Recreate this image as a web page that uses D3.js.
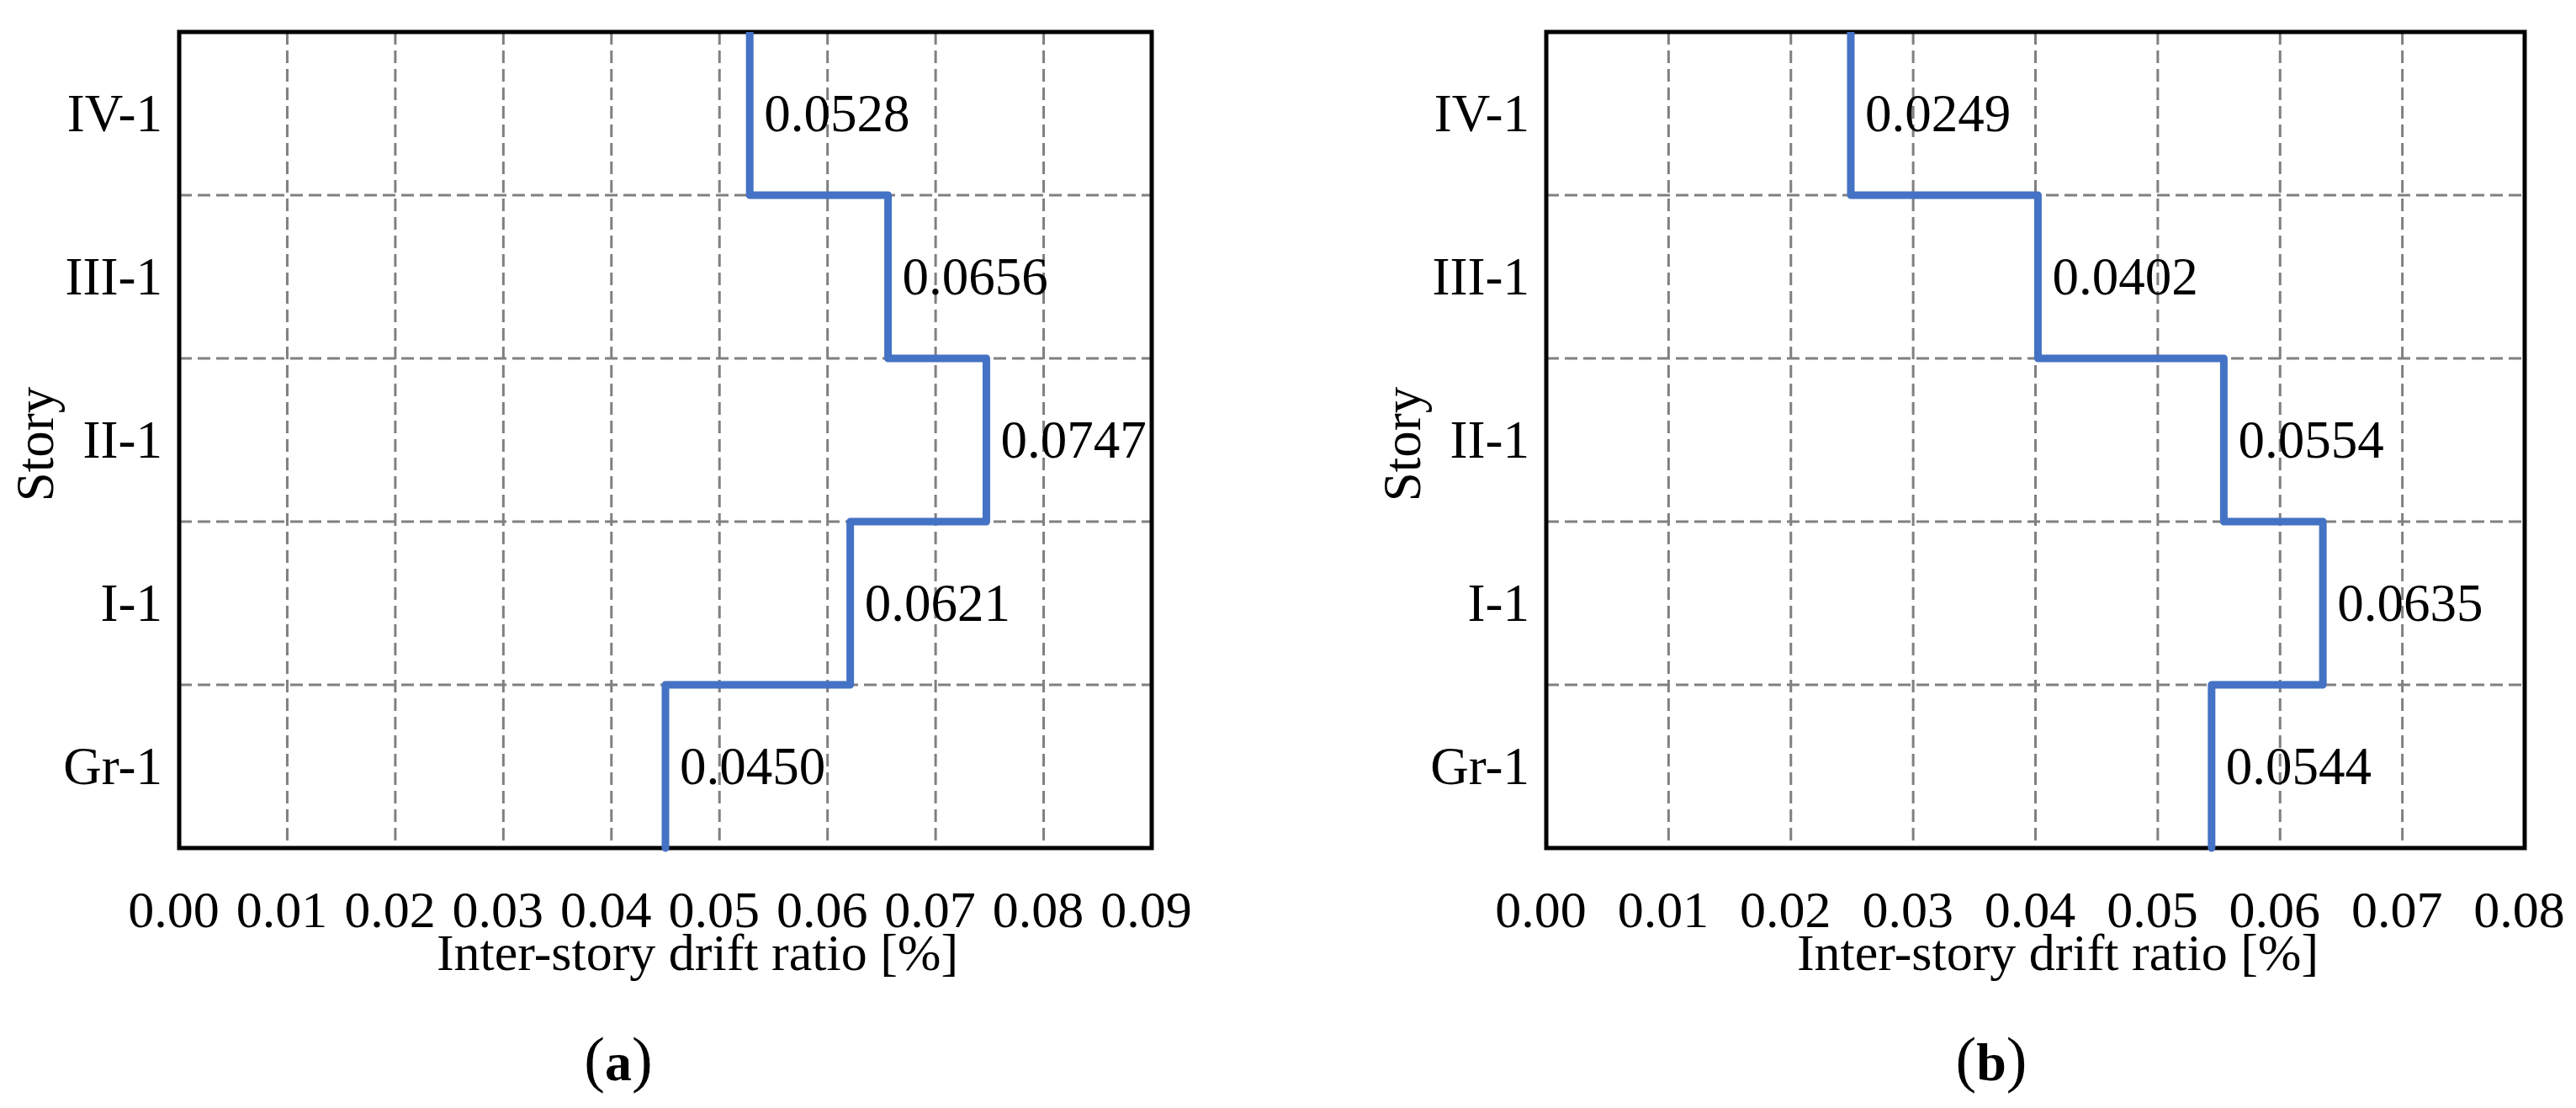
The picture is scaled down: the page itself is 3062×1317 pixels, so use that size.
<!DOCTYPE html>
<html>
<head>
<meta charset="utf-8">
<script src="https://cdn.jsdelivr.net/npm/d3@7"></script>
<style>
  html, body { margin: 0; padding: 0; background: #ffffff; }
  svg { display: block; }
  text { font-family: "Liberation Serif", "Times New Roman", serif; fill: #000; }
</style>
</head>
<body>
<script>
// ---------- data ----------
const stories = ["IV-1", "III-1", "II-1", "I-1", "Gr-1"];          // top -> bottom
const driftA  = [0.0528, 0.0656, 0.0747, 0.0621, 0.0450];          // panel (a)
const driftB  = [0.0249, 0.0402, 0.0554, 0.0635, 0.0544];          // panel (b)
const ticksA  = [0.00, 0.01, 0.02, 0.03, 0.04, 0.05, 0.06, 0.07, 0.08, 0.09];
const ticksB  = [0.00, 0.01, 0.02, 0.03, 0.04, 0.05, 0.06, 0.07, 0.08];
const xTitle  = "Inter-story drift ratio [%]";
const yTitle  = "Story";
const panelLetters = ["a", "b"];

// ---------- layout ----------
const W = 3062, H = 1317;
const plotTop = 38, plotBottom = 1008;
const panels = [
  { x0: 213,  x1: 1369, ticks: ticksA, values: driftA, letter: panelLetters[0], letterX: 735,  titleX: 829 },
  { x0: 1838, x1: 3001, ticks: ticksB, values: driftB, letter: panelLetters[1], letterX: 2367, titleX: 2446 }
];
const blue = "#4472C4";
const gridColor = "#808080";
const fs = 62;

const svg = d3.select("body").append("svg")
  .attr("width", W).attr("height", H)
  .attr("viewBox", `0 0 ${W} ${H}`);

const fmtTick = d3.format(".2f");
const fmtVal = d3.format(".4f");

panels.forEach((p, pi) => {
  const x = d3.scaleLinear()
    .domain([p.ticks[0], p.ticks[p.ticks.length - 1]])
    .range([p.x0, p.x1]);
  const y = d3.scaleBand().domain(stories).range([plotTop, plotBottom]).paddingInner(0).paddingOuter(0);

  const g = svg.append("g");

  // clip
  const clipId = "clip" + pi;
  svg.append("clipPath").attr("id", clipId)
    .append("rect").attr("x", p.x0 - 20).attr("y", plotTop)
    .attr("width", p.x1 - p.x0 + 40).attr("height", plotBottom - plotTop + 6);

  // vertical grid lines (inner ticks)
  g.append("g").selectAll("line")
    .data(p.ticks.slice(1, -1))
    .join("line")
    .attr("x1", d => x(d)).attr("x2", d => x(d))
    .attr("y1", plotTop).attr("y2", plotBottom)
    .attr("stroke", gridColor).attr("stroke-width", 3)
    .attr("stroke-dasharray", "15,7");

  // horizontal grid lines (story boundaries)
  g.append("g").selectAll("line")
    .data(stories.slice(1))
    .join("line")
    .attr("x1", p.x0).attr("x2", p.x1)
    .attr("y1", d => y(d)).attr("y2", d => y(d))
    .attr("stroke", gridColor).attr("stroke-width", 3)
    .attr("stroke-dasharray", "15,7");

  // frame
  g.append("rect")
    .attr("x", p.x0).attr("y", plotTop)
    .attr("width", p.x1 - p.x0).attr("height", plotBottom - plotTop)
    .attr("fill", "none").attr("stroke", "#000").attr("stroke-width", 5);

  // step line
  const pts = [];
  stories.forEach((s, i) => {
    pts.push([x(p.values[i]), y(s)]);
    pts.push([x(p.values[i]), y(s) + y.bandwidth()]);
  });
  g.append("path")
    .attr("d", d3.line()(pts))
    .attr("fill", "none")
    .attr("stroke", blue).attr("stroke-width", 9)
    .attr("stroke-linejoin", "round").attr("stroke-linecap", "round")
    .attr("clip-path", `url(#${clipId})`);

  // value labels
  g.append("g").selectAll("text")
    .data(stories)
    .join("text")
    .attr("x", (s, i) => x(p.values[i]) + 17)
    .attr("y", s => y(s) + y.bandwidth() / 2)
    .attr("dy", "0.33em")
    .attr("font-size", 63)
    .text((s, i) => fmtVal(p.values[i]));

  // x axis
  const xAxis = d3.axisBottom(x).tickValues(p.ticks).tickFormat(fmtTick).tickSize(0).tickPadding(50);
  const gx = svg.append("g").attr("transform", `translate(0,${plotBottom})`).call(xAxis);
  gx.select(".domain").remove();
  gx.selectAll("text").attr("font-size", fs).attr("font-family", "Liberation Serif")
    .attr("fill", "#000").attr("dx", -7);

  // y axis
  const yAxis = d3.axisLeft(y).tickSize(0).tickPadding(20);
  const gy = svg.append("g").attr("transform", `translate(${p.x0},0)`).call(yAxis);
  gy.select(".domain").remove();
  gy.selectAll("text").attr("font-size", 63).attr("font-family", "Liberation Serif")
    .attr("fill", "#000").attr("dy", "0.33em");

  // axis titles
  svg.append("text")
    .attr("x", p.titleX).attr("y", 1153)
    .attr("text-anchor", "middle").attr("font-size", fs)
    .text(xTitle);

  svg.append("text")
    .attr("transform", `translate(${p.x0 - 150},${(plotTop + plotBottom) / 2 + 5}) rotate(-90)`)
    .attr("text-anchor", "middle").attr("font-size", 63)
    .text(yTitle);

  // panel label
  const lab = svg.append("text")
    .attr("x", p.letterX).attr("y", 1284)
    .attr("text-anchor", "middle").attr("font-size", 74);
  lab.append("tspan").text("(");
  lab.append("tspan").attr("font-weight", "bold").attr("font-size", 64).text(p.letter);
  lab.append("tspan").text(")");
});
</script>
</body>
</html>
